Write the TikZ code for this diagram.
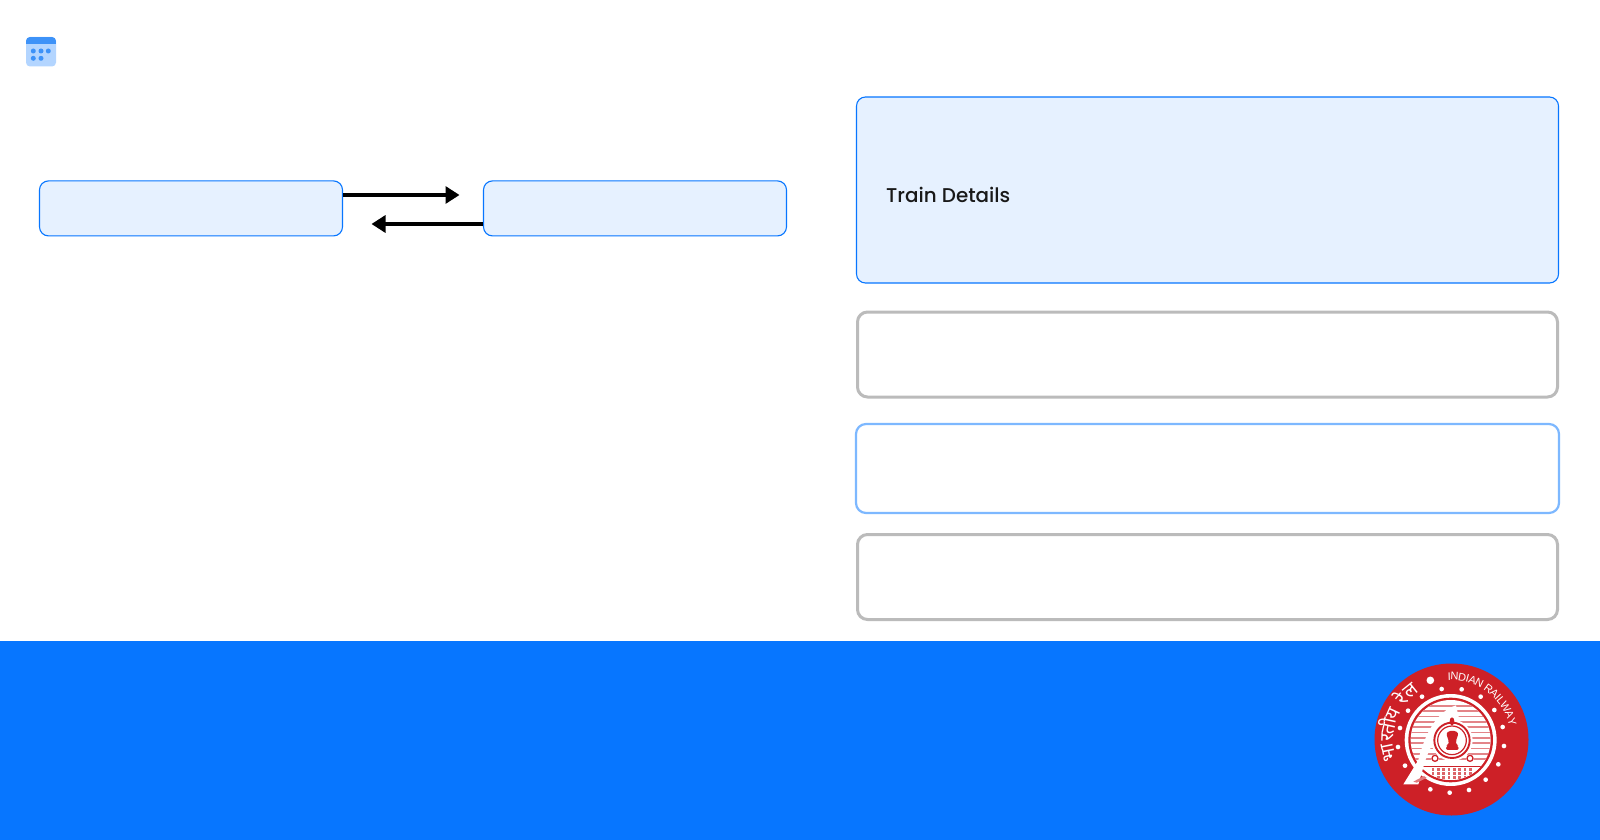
\documentclass[tikz,border=0pt]{standalone}
\usepackage{fontspec}
\setmainfont{Poppins}
\newfontfamily\hindifont[Script=Devanagari]{Noto Sans}
\newfontfamily\labelfont{Poppins Medium}
\newfontfamily\logofont{Liberation Sans}
\usetikzlibrary{arrows.meta}
\definecolor{railblue}{HTML}{0776FF}
\definecolor{paleblue}{HTML}{E6F1FF}
\definecolor{softgrey}{HTML}{BBBBBB}
\definecolor{softblue}{HTML}{7DB8FF}
\definecolor{logored}{HTML}{CD2027}
\definecolor{iconblue}{HTML}{3D92F8}
\definecolor{iconpale}{HTML}{B3D5FF}
\tikzset{
  bluebox/.style={draw=railblue,fill=paleblue,line width=1.1pt,rounded corners=9pt,inner sep=0pt},
  greybox/.style={draw=softgrey,fill=white,line width=3pt,rounded corners=10pt,inner sep=0pt},
  softbox/.style={draw=softblue,fill=white,line width=2.2pt,rounded corners=10pt,inner sep=0pt},
  flow/.style={line width=3.2pt,-{Triangle[length=14pt,width=17pt]}},
  hindi/.style={text=white,inner sep=0pt,anchor=base,font=\hindifont\fontsize{19}{19}\selectfont},
  latin/.style={text=white,inner sep=0pt,anchor=base,font=\logofont\fontsize{11}{11}\selectfont}
}
\begin{document}
\begin{tikzpicture}[x=1pt,y=-1pt]
\useasboundingbox (0,0) rectangle (1600,840);
\fill[white] (0,0) rectangle (1600,840);
\fill[railblue] (0,641) rectangle (1600,840);
% calendar icon
\fill[iconpale,rounded corners=4pt] (26,37) rectangle (56,66.5);
\begin{scope}
\clip[rounded corners=4pt] (26,37) rectangle (56,66.5);
\fill[iconblue] (26,37) rectangle (56,44.5);
\end{scope}
\foreach \dx/\dy in {33.3/51,41/51,48.3/51,33.3/58.3,41/58.3}
  \fill[iconblue] (\dx,\dy) circle (2.5);
% boxes
\node[bluebox,minimum width=303pt,minimum height=55pt] (left) at (191,208.4) {};
\node[bluebox,minimum width=303pt,minimum height=55pt] (right) at (635,208.4) {};
\node[bluebox,minimum width=702pt,minimum height=186pt] (train) at (1207.5,190) {};
\node[anchor=west,inner sep=0pt,font=\labelfont\fontsize{19.9}{24}\selectfont,text=black!90] (traintext) at (886,195) {Train Details};
\node[greybox,minimum width=700pt,minimum height=85pt] (g1) at (1207.5,354.5) {};
\node[softbox,minimum width=703pt,minimum height=89pt] (s1) at (1207.5,468.5) {};
\node[greybox,minimum width=700pt,minimum height=85pt] (g2) at (1207.5,577) {};
% arrows
\coordinate (t1) at (459.5,195);
\coordinate (t2) at (371.5,224);
\draw[flow] (left.east |- t1) -- (t1);
\draw[flow] (right.west |- t2) -- (t2);
% logo
\fill[logored] (1451.5,739.5) ellipse (77 and 76);
\begin{scope}[shift={(1350,650)},x=0.3333pt,y=-0.3333pt]
 \foreach \px/\py in {275/117,335/118,392/140,433/180,458/231,462/288,445/343,407/389,357/420,299/428,241/418,165/347,144/291,150/234,174/182,216/140}
   \fill[white] (\px,\py) circle (7);
 \fill[white] (241,91) circle (11.5);
 % medallion
 \fill[white] (302,270) circle (138);
 \fill[logored] (302,270) circle (127);
 \fill[white] (302,270) circle (120);
 \begin{scope}
  \clip (302,270) circle (120);
  \foreach \yy in {165,181,197,213,229,245,261,277,293,309,325}
    \fill[logored!55] (180,\yy) rectangle (425,\yy+5);
  \fill[white] (180,350) rectangle (425,400);
  \foreach \xx in {245,261,277,293,309,325,341,357}
    \fill[logored!70] (\xx,355) rectangle (\xx+8,395);
  \foreach \yy in {362,374,386}
    \fill[white] (240,\yy) rectangle (370,\yy+4);
  \fill[logored] (200,347) rectangle (405,351);
 \end{scope}
 % locomotive outline
 \fill[white] (318,166) .. controls (260,185) and (225,250) .. (205,330) -- (196,345) -- (160,403) -- (205,403) -- (222,345) .. controls (240,280) and (280,225) .. (327,205) -- cycle;
 \fill[logored!60] (190,395) -- (222,378) -- (230,384) -- (200,398) -- cycle;
 % emblem
 \fill[white] (306,271) circle (62);
 \draw[logored,line width=1.9pt] (306,271) circle (53);
 \draw[logored,line width=1.2pt] (306,271) circle (43);
 \fill[logored,rounded corners=2pt] (292,262) .. controls (288,246) and (298,243) .. (307,243) .. controls (316,243) and (326,246) .. (322,262) -- (317,274) -- (319,285) -- (326,288) -- (326,300) -- (288,300) -- (288,288) -- (295,285) -- (297,274) -- cycle;
 \fill[logored] (306,214) ellipse (7 and 12);
 \fill[white] (255,325) circle (12);
 \draw[logored,line width=1.3pt] (255,325) circle (9);
 \fill[white] (360,325) circle (12);
 \draw[logored,line width=1.3pt] (360,325) circle (9);
 % lettering
 \foreach \ch/\ang in {भा/-101.5,र/-88,ती/-77.5,य/-65.5,रे/-50,ल/-39}
   \node[hindi,rotate=-\ang] at ({302+172*sin(\ang)},{270-172*cos(\ang)}) {\ch};
 \foreach \ch/\ang in {I/-1.6,N/3.2,D/10.2,I/15,A/19.7,N/26.4,R/36.1,A/42.9,I/47.5,L/51.5,W/58.9,A/66.7,Y/73.2}
   \node[latin,rotate=-\ang] at ({303+180*sin(\ang)},{270-180*cos(\ang)}) {\ch};
\end{scope}
\end{tikzpicture}
\end{document}
